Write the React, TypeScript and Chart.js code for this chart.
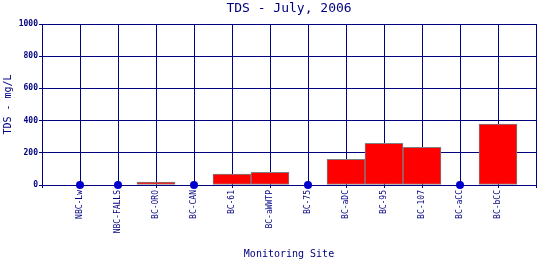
import React, { useEffect, useRef } from "react";
import { Chart, registerables } from "chart.js";

Chart.register(...registerables);

const TITLE = "TDS - July, 2006";
const X_TITLE = "Monitoring Site";
const Y_TITLE = "TDS - mg/L";

const sites = [
  "NBC-Lw",
  "NBC-FALLS",
  "BC-ORO",
  "BC-CAN",
  "BC-61",
  "BC-aWWTP",
  "BC-75",
  "BC-aDC",
  "BC-95",
  "BC-107",
  "BC-aCC",
  "BC-bCC",
];

// null = no measured value (shown as a dot on the axis)
const tdsValues: (number | null)[] = [
  null, null, 18, null, 68, 79, null, 160, 259, 234, null, 379,
];

const yTicks = { min: 0, max: 1000, step: 200 };

const NAVY = "#000080";
const FONT = "'DejaVu Sans Mono', 'Liberation Mono', monospace";

export default function App() {
  const ref = useRef<HTMLCanvasElement | null>(null);

  useEffect(() => {
    if (!ref.current) return;
    const labels = ["", ...sites, ""];
    const barData = [null, ...tdsValues, null];
    const dotData = [null, ...tdsValues.map((v) => (v == null ? 0 : null)), null];

    const titlePlugin = {
      id: "centeredTitle",
      afterDraw(chart: any) {
        const { ctx, chartArea } = chart;
        ctx.save();
        ctx.fillStyle = NAVY;
        ctx.font = `13px ${FONT}`;
        ctx.textAlign = "center";
        ctx.textBaseline = "middle";
        ctx.fillText(TITLE, (chartArea.left + chartArea.right) / 2, 9);
        ctx.restore();
      },
    };

    const chart = new Chart(ref.current, {
      type: "bar",
      data: {
        labels,
        datasets: [
          {
            type: "bar",
            data: barData as any,
            backgroundColor: "#FF0000",
            borderColor: "#808080",
            borderWidth: 1,
            borderSkipped: false,
            barPercentage: 1,
            categoryPercentage: 1,
            order: 2,
          },
          {
            type: "line",
            data: dotData as any,
            showLine: false,
            clip: false,
            pointRadius: 4,
            pointBackgroundColor: "#0000CC",
            pointBorderWidth: 0,
            pointBorderColor: "#0000CC",
            order: 1,
          } as any,
        ],
      },
      options: {
        responsive: false,
        animation: false,
        layout: { padding: { top: 24, right: 3, left: 0, bottom: 0 } },
        plugins: {
          legend: { display: false },
          tooltip: { enabled: false },
          title: { display: false },
        },
        scales: {
          x: {
            type: "category",
            offset: false,
            grid: {
              offset: false,
              color: NAVY,
              lineWidth: 1,
              tickLength: 3,
              drawTicks: true,
            },
            border: { color: NAVY, width: 1 },
            ticks: {
              autoSkip: false,
              maxRotation: 90,
              minRotation: 90,
              color: NAVY,
              padding: 2,
              font: { family: FONT, size: 8 },
            },
            title: {
              display: true,
              text: X_TITLE,
              color: NAVY,
              font: { family: FONT, size: 10 },
              padding: { top: 0, bottom: 0 },
            },
            afterFit(scale: any) {
              scale.height = 75;
              scale.paddingLeft = 0;
              scale.paddingRight = 0;
            },
          },
          y: {
            type: "linear",
            min: yTicks.min,
            max: yTicks.max,
            grid: { color: NAVY, lineWidth: 1, tickLength: 3 },
            border: { color: NAVY, width: 1 },
            ticks: {
              stepSize: yTicks.step,
              color: NAVY,
              padding: 1,
              font: { family: FONT, size: 8, weight: "bold" },
              callback: (v: any) => String(v),
            },
            title: {
              display: true,
              text: Y_TITLE,
              color: NAVY,
              font: { family: FONT, size: 10 },
              padding: { top: 2, bottom: 0 },
            },
            afterFit(scale: any) {
              scale.width = 42;
              scale.paddingTop = 0;
              scale.paddingBottom = 0;
            },
          },
        },
      },
      plugins: [titlePlugin],
    });
    return () => chart.destroy();
  }, []);

  return (
    <div style={{ position: "absolute", left: 0, top: 0, width: 540, height: 260, background: "#fff" }}>
      <canvas ref={ref} width={540} height={260} style={{ width: 540, height: 260 }} />
    </div>
  );
}
